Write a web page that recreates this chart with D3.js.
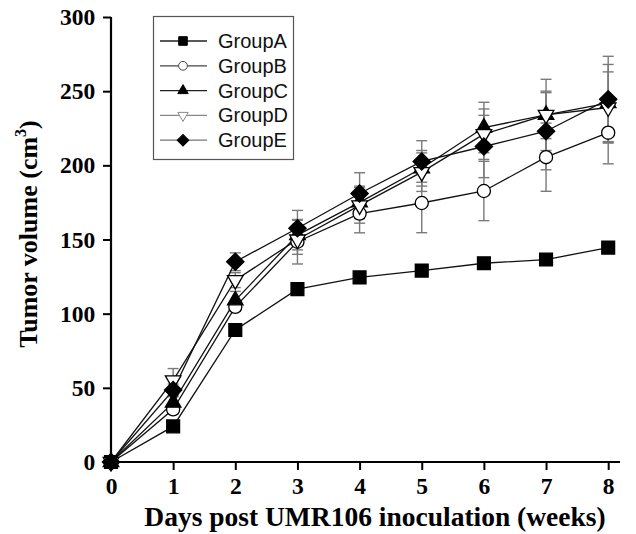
<!DOCTYPE html>
<html>
<head>
<meta charset="utf-8">
<script src="https://cdn.jsdelivr.net/npm/d3@7"></script>
<style>
  body { margin: 0; background: #fff; }
  svg { display: block; }
</style>
</head>
<body>
<div class="chart"></div>
<script>
// values (tumor volume, cm3)
const weeks = [0, 1, 2, 3, 4, 5, 6, 7, 8];
const groupA = [0, 24, 89, 116.5, 124.5, 129, 134, 136.5, 144.5];
const groupB = [0, 35.5, 104.6, 148.5, 167.5, 174.6, 182.7, 205.5, 222];
const groupC = [0, 40, 109, 153, 175, 198, 225.5, 234, 242];
const groupD = [0, 55, 122.6, 150, 173, 195.4, 221, 234, 239];
const groupE = [0, 48.5, 135, 157.6, 181, 202.6, 212.7, 223, 244.5];
// error bar half-lengths
const errA = [0, 0, 0, 0, 0, 0, 0, 0, 0];
const errB = [0, 3, 3, 15, 13, 20, 20, 23, 21];
const errC = [0, 4, 6, 10, 11, 12, 17, 24, 26];
const errD = [0, 8, 5, 10, 12, 13, 17, 16, 24];
const errE = [0, 4, 6, 12, 14, 14, 21, 26, 29];
const groupNames = ["GroupA", "GroupB", "GroupC", "GroupD", "GroupE"];
const xTicks = [0, 1, 2, 3, 4, 5, 6, 7, 8];
const yTicks = [0, 50, 100, 150, 200, 250, 300];

const width = 636;
const height = 534;
const serif = "'Liberation Serif', 'Times New Roman', serif";

const series = [
    {name: groupNames[0], values: groupA, err: errA, shape: "square", fill: "#000"},
    {name: groupNames[1], values: groupB, err: errB, shape: "circle", fill: "#fff"},
    {name: groupNames[2], values: groupC, err: errC, shape: "triangle", fill: "#000"},
    {name: groupNames[3], values: groupD, err: errD, shape: "down", fill: "#fff"},
    {name: groupNames[4], values: groupE, err: errE, shape: "diamond", fill: "#000"}
];

const svg = d3.select('.chart')
    .append('svg')
    .attr('width', width)
    .attr('height', height);

const x = d3.scaleLinear().domain([0, 8.19]).range([111, 620]);
const y = d3.scaleLinear().domain([0, 300]).range([462, 17]);

// symbol path + extra rotation for each marker shape
function symbolPath(shape, k) {
    if (shape === "square") return d3.symbol(d3.symbolSquare, 165 * k)();
    if (shape === "circle") return d3.symbol(d3.symbolCircle, 135 * k)();
    if (shape === "diamond") return d3.symbol(d3.symbolSquare, 150 * k)();
    return d3.symbol(d3.symbolTriangle, 105 * k)();
}
function symbolTurn(shape) {
    if (shape === "down") return " rotate(180)";
    if (shape === "diamond") return " rotate(45)";
    return "";
}

// error bars first (grey)
series.forEach(s => {
    const g = svg.append("g").attr("stroke", "#7a7a7a").attr("stroke-width", 1.4);
    weeks.forEach((w, i) => {
        if (s.err[i] <= 0) return;
        const top = y(s.values[i] + s.err[i]);
        const bot = y(s.values[i] - s.err[i]);
        g.append("line").attr("x1", x(w)).attr("x2", x(w)).attr("y1", top).attr("y2", bot);
        g.append("line").attr("x1", x(w) - 5.5).attr("x2", x(w) + 5.5).attr("y1", top).attr("y2", top);
        g.append("line").attr("x1", x(w) - 5.5).attr("x2", x(w) + 5.5).attr("y1", bot).attr("y2", bot);
    });
});

// lines
const line = d3.line()
    .x((d, i) => x(weeks[i]))
    .y(d => y(d));

series.forEach(s => {
    svg.append("path")
        .attr("d", line(s.values))
        .attr("fill", "none")
        .attr("stroke", "#111")
        .attr("stroke-width", 1.3);
});

// markers
series.forEach(s => {
    svg.selectAll("path.m-" + s.shape)
        .data(s.values)
        .enter()
        .append("path")
        .attr("class", "m-" + s.shape)
        .attr("d", symbolPath(s.shape, 1))
        .attr("transform", (d, i) => `translate(${x(weeks[i])},${y(d)})` + symbolTurn(s.shape))
        .attr("fill", s.fill)
        .attr("stroke", "#000")
        .attr("stroke-width", 1.3);
});

// axes
const xAxis = d3.axisBottom(x).tickValues(xTicks).tickSize(8).tickFormat(d3.format("d"));
const yAxis = d3.axisLeft(y).tickValues(yTicks).tickSize(8);

const gx = svg.append("g").attr("transform", `translate(0,${y(0)})`).call(xAxis);
const gy = svg.append("g").attr("transform", `translate(${x(0)},0)`).call(yAxis);

gx.select(".domain").attr("d", `M${x(0) - 3},0H620`);
gy.select(".domain").attr("d", `M0,${y(0)}V${y(300)}`);
[gx, gy].forEach(g => {
    g.select(".domain").attr("stroke", "#000").attr("stroke-width", 2.2);
    g.selectAll(".tick line").attr("stroke", "#000").attr("stroke-width", 2);
    g.selectAll(".tick text")
        .attr("fill", "#000")
        .attr("font-family", serif)
        .attr("font-weight", "bold")
        .attr("font-size", 23.5);
});
gx.selectAll(".tick text").attr("dy", "0.9em");
gy.selectAll(".tick text").attr("dx", "-0.2em");

// axis titles
svg.append("text")
    .text("Days post UMR106 inoculation (weeks)")
    .attr("x", 375)
    .attr("y", 526)
    .attr("text-anchor", "middle")
    .attr("fill", "#000")
    .attr("font-family", serif)
    .attr("font-weight", "bold")
    .attr("font-size", 27.5);

const yTitle = svg.append("text")
    .attr("transform", "translate(37,234) rotate(-90)")
    .attr("text-anchor", "middle")
    .attr("fill", "#000")
    .attr("font-family", serif)
    .attr("font-weight", "bold")
    .attr("font-size", 26);
yTitle.append("tspan").text("Tumor volume (cm");
yTitle.append("tspan").text("3").attr("font-size", 16).attr("dy", -11);
yTitle.append("tspan").text(")").attr("dy", 11);

// legend
const legend = svg.append("g");
legend.append("rect")
    .attr("x", 153.5).attr("y", 16.5)
    .attr("width", 140).attr("height", 143)
    .attr("fill", "#fff")
    .attr("stroke", "#555")
    .attr("stroke-width", 1.2);

const legendColor = ["#222", "#444", "#222", "#888", "#777"];
series.forEach((s, i) => {
    const ly = 41 + i * 24.8;
    legend.append("line")
        .attr("x1", 160).attr("x2", 207)
        .attr("y1", ly).attr("y2", ly)
        .attr("stroke", legendColor[i])
        .attr("stroke-width", 1.3);
    legend.append("path")
        .attr("d", symbolPath(s.shape, 0.45))
        .attr("transform", `translate(183,${ly})` + symbolTurn(s.shape))
        .attr("fill", s.fill)
        .attr("stroke", s.fill === "#fff" ? legendColor[i] : "#000")
        .attr("stroke-width", 1);
    legend.append("text")
        .text(s.name)
        .attr("x", 218)
        .attr("y", ly + 7)
        .attr("font-family", "'Liberation Sans', Arial, sans-serif")
        .attr("font-size", 20)
        .attr("fill", "#111");
});
</script>
</body>
</html>
